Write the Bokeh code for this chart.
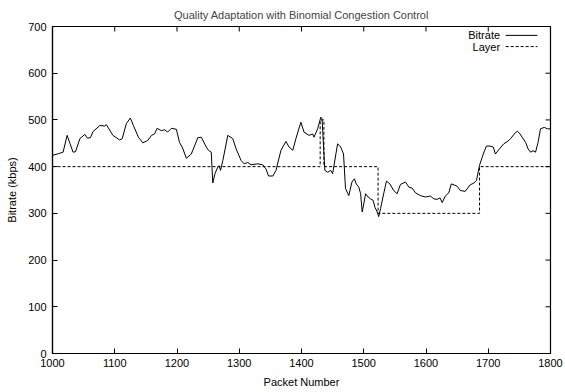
import math
from bokeh.plotting import figure
from bokeh.models import FixedTicker, Label, Arrow, Range1d
from bokeh.embed import file_html
from bokeh.resources import INLINE

# ---- data ----
packet = [1000, 1010, 1017, 1023.5, 1028, 1033, 1037, 1044, 1052, 1056, 1061, 1065,
          1076, 1084, 1086.5, 1097, 1108, 1112, 1118.6, 1125, 1130, 1138, 1145, 1153,
          1159, 1164, 1168, 1175, 1180, 1185, 1191, 1199, 1204, 1209, 1215, 1223,
          1233.5, 1239, 1247, 1250.5, 1255, 1257.5, 1261, 1265.5, 1267.6, 1270, 1273.6,
          1281.6, 1289.6, 1295, 1303, 1308, 1313.6, 1319, 1329.6, 1337.7, 1343, 1347,
          1354, 1359, 1367, 1375, 1380, 1386, 1391, 1399, 1404, 1412, 1418, 1420, 1426,
          1431, 1433, 1437.5, 1442, 1447, 1450, 1458, 1463, 1467.5, 1470.7, 1476,
          1481, 1485, 1488, 1492, 1495, 1497.5, 1500, 1503, 1507, 1511, 1515,
          1518, 1521.6, 1524, 1527, 1532, 1536.5, 1542, 1548, 1553.6, 1559, 1567,
          1572.6, 1577.9, 1583, 1591, 1599, 1607, 1612.7, 1618, 1622.6, 1626, 1631,
          1636.6, 1640.6, 1645, 1650, 1655, 1663, 1671, 1677, 1681, 1686, 1692, 1697,
          1703, 1708, 1711.5, 1718, 1725, 1730, 1736, 1743, 1747, 1751, 1760, 1764,
          1768, 1772, 1776, 1780, 1784, 1790, 1795, 1800]
bitrate = [424, 428, 431, 467, 450, 431, 432, 460, 469, 461, 462, 475,
           488, 487, 490, 467, 457, 460, 492, 504, 488, 463, 451, 456,
           467, 470, 482, 477, 479, 474, 482, 480, 452, 440, 418, 427,
           462, 463, 442, 435, 431, 365, 385, 399, 402, 392, 413,
           467, 460, 438, 413, 406, 409, 404, 406, 404, 395, 380,
           380, 392, 435, 454, 442, 435, 460, 495, 474, 467, 470, 463, 481,
           506, 503, 392, 388, 392, 385, 449, 442, 427, 353, 338,
           367, 374, 363, 356, 342, 303, 320, 342, 335, 331, 328,
           313, 303, 293, 310, 342, 369, 363, 349, 342, 362, 367,
           356, 354, 344, 338, 335, 337, 331, 330, 333, 323, 337,
           344, 363, 361, 358, 349, 347, 361, 365, 370, 403, 427, 444,
           444, 442, 427, 438, 449, 453, 460, 472, 476, 470, 452, 438,
           431, 434, 431, 452, 481, 484, 481, 481]

layer_packet = [1000, 1430, 1430, 1436, 1436, 1523, 1523, 1686, 1686, 1800]
layer_kbps = [400, 400, 500, 500, 400, 400, 300, 300, 400, 400]

x_ticks = [1000, 1100, 1200, 1300, 1400, 1500, 1600, 1700, 1800]
y_ticks = [0, 100, 200, 300, 400, 500, 600, 700]

title_text = "Quality Adaptation with Binomial Congestion Control"
x_label = "Packet Number"
y_label = "Bitrate (kbps)"
series_names = ["Bitrate", "Layer"]

FONT = "Liberation Sans"
FS = "11px"
X0, X1 = 1000, 1800
Y0, Y1 = 0, 700

p = figure(width=565, height=392, output_backend="svg", toolbar_location=None,
           x_range=Range1d(X0, X1), y_range=Range1d(Y0, Y1),
           min_border_left=52, min_border_right=15, min_border_top=26,
           min_border_bottom=39, title=title_text)
p.title.text_font = FONT
p.title.text_font_size = FS
p.title.text_font_style = "normal"
p.title.align = "center"
p.title.standoff = 12
p.title.offset = 0

p.grid.visible = False
p.outline_line_color = "black"
p.outline_line_width = 1.2
p.background_fill_color = "white"
p.border_fill_color = "white"


def style_axis(ax, ticks):
    ax.ticker = FixedTicker(ticks=ticks)
    ax.major_tick_in = 5
    ax.major_tick_out = 0
    ax.minor_tick_in = 0
    ax.minor_tick_out = 0
    ax.major_tick_line_color = "black"
    ax.axis_line_color = "black"
    ax.axis_line_width = 1.2
    ax.major_label_text_font = FONT
    ax.major_label_text_font_size = FS
    ax.major_label_text_color = "black"
    ax.axis_label_text_font = FONT
    ax.axis_label_text_font_size = FS
    ax.axis_label_text_font_style = "normal"
    ax.axis_label_text_color = "black"


style_axis(p.xaxis[0], x_ticks)
style_axis(p.yaxis[0], y_ticks)
p.xaxis[0].axis_label = x_label
p.yaxis[0].axis_label = y_label
p.xaxis[0].major_label_standoff = 5
p.xaxis[0].axis_label_standoff = 6
p.yaxis[0].major_label_standoff = 6
p.yaxis[0].axis_label_standoff = 7

# mirrored inward ticks on top and right borders (gnuplot style)
p.ray(x=x_ticks, y=[Y1] * len(x_ticks), length=5, length_units="screen",
      angle=-math.pi / 2, line_color="black", line_width=1)
p.ray(x=[X1] * len(y_ticks), y=y_ticks, length=5, length_units="screen",
      angle=math.pi, line_color="black", line_width=1)

p.line(packet, bitrate, line_color="black", line_width=1)
p.line(layer_packet, layer_kbps, line_color="black", line_width=1, line_dash="3 2")

# legend (gnuplot style: label then sample)
leg_text_x = 1719
leg_line_x0, leg_line_x1 = 1728, 1779
leg_rows = [681, 657]
dashes = ["solid", "3 2"]
for name, yy, dash in zip(series_names, leg_rows, dashes):
    p.add_layout(Label(x=leg_text_x, y=yy, text=name, text_align="right",
                       text_baseline="middle", text_font=FONT, text_font_size=FS,
                       text_color="black"))
    p.add_layout(Arrow(x_start=leg_line_x0, y_start=yy, x_end=leg_line_x1, y_end=yy,
                       end=None, start=None, line_color="black", line_width=1,
                       line_dash=dash))

open("out.html", "w").write(file_html(p, INLINE))
